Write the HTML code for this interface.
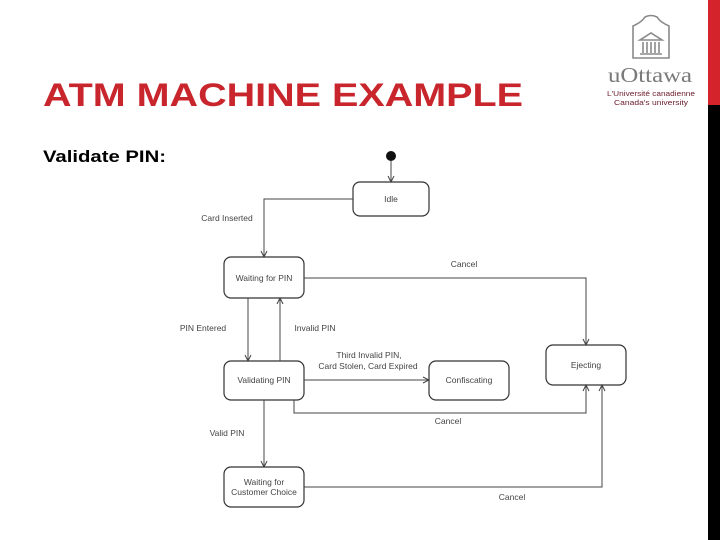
<!DOCTYPE html>
<html><head><meta charset="utf-8"><style>
html,body{margin:0;padding:0;background:#fff;}
svg{display:block;}
</style></head><body>
<svg width="720" height="540" viewBox="0 0 720 540" xmlns="http://www.w3.org/2000/svg" font-family="Liberation Sans, sans-serif">
<rect x="0" y="0" width="720" height="540" fill="#fff"/>
<rect x="708" y="0" width="12" height="105" fill="#d4232b"/>
<rect x="708" y="105" width="12" height="435" fill="#000"/>
<text x="43" y="106" font-size="32" font-weight="bold" fill="#c8252c" textLength="480" lengthAdjust="spacingAndGlyphs">ATM MACHINE EXAMPLE</text>
<text x="43" y="162" font-size="17" font-weight="bold" fill="#000" textLength="123" lengthAdjust="spacingAndGlyphs">Validate PIN:</text>
<!-- logo -->
<g fill="none" stroke="#8a8a8a" stroke-width="1.6">
<path d="M633 58 V26 Q642 22 645 17 Q651 14 657 17 Q660 22 669 26 V58 Z"/>
<path d="M640 40 H662 L651 33 Z"/>
<path d="M643 42 V53 M647 42 V53 M651 42 V53 M655 42 V53 M659 42 V53 M640 54 H662"/>
</g>
<text x="650" y="82" font-size="21" font-family="Liberation Serif, serif" fill="#7a7a7a" text-anchor="middle" textLength="84" lengthAdjust="spacingAndGlyphs">uOttawa</text>
<text x="651" y="96" font-size="7.5" fill="#6a1a2a" text-anchor="middle" textLength="88" lengthAdjust="spacingAndGlyphs">L'Université canadienne</text>
<text x="651" y="105" font-size="7.5" fill="#6a1a2a" text-anchor="middle" textLength="74" lengthAdjust="spacingAndGlyphs">Canada's university</text>
<!-- diagram -->
<circle cx="391" cy="156" r="5" fill="#111"/>
<g fill="#fff" stroke="#333" stroke-width="1.2">
<rect x="353" y="182" width="76" height="34" rx="7"/>
<rect x="224" y="257" width="80" height="41" rx="7"/>
<rect x="224" y="361" width="80" height="39" rx="7"/>
<rect x="429" y="361" width="80" height="39" rx="7"/>
<rect x="546" y="345" width="80" height="40" rx="7"/>
<rect x="224" y="467" width="80" height="40" rx="7"/>
</g>
<g fill="none" stroke="#444" stroke-width="1">
<path d="M391 161 V182"/><path d="M388 176 L391 182 L394 176"/>
<path d="M353 199 H264 V257"/><path d="M261 251 L264 257 L267 251"/>
<path d="M304 278 H586 V345"/><path d="M583 339 L586 345 L589 339"/>
<path d="M248 298 V361"/><path d="M245 355 L248 361 L251 355"/>
<path d="M280 361 V298"/><path d="M277 304 L280 298 L283 304"/>
<path d="M304 380 H429"/><path d="M423 377 L429 380 L423 383"/>
<path d="M294 400 V413 H586 V385"/><path d="M583 391 L586 385 L589 391"/>
<path d="M264 400 V467"/><path d="M261 461 L264 467 L267 461"/>
<path d="M304 487 H602 V385"/><path d="M599 391 L602 385 L605 391"/>
</g>
<g font-size="8.5" fill="#444" text-anchor="middle">
<text x="391" y="202">Idle</text>
<text x="264" y="281">Waiting for PIN</text>
<text x="264" y="383">Validating PIN</text>
<text x="469" y="383">Confiscating</text>
<text x="586" y="368">Ejecting</text>
<text x="264" y="485">Waiting for</text>
<text x="264" y="495">Customer Choice</text>
<text x="227" y="221">Card Inserted</text>
<text x="464" y="267">Cancel</text>
<text x="203" y="331">PIN Entered</text>
<text x="315" y="331">Invalid PIN</text>
<text x="369" y="358">Third Invalid PIN,</text>
<text x="368" y="369">Card Stolen, Card Expired</text>
<text x="448" y="424">Cancel</text>
<text x="227" y="436">Valid PIN</text>
<text x="512" y="500">Cancel</text>
</g>
</svg>
</body></html>
